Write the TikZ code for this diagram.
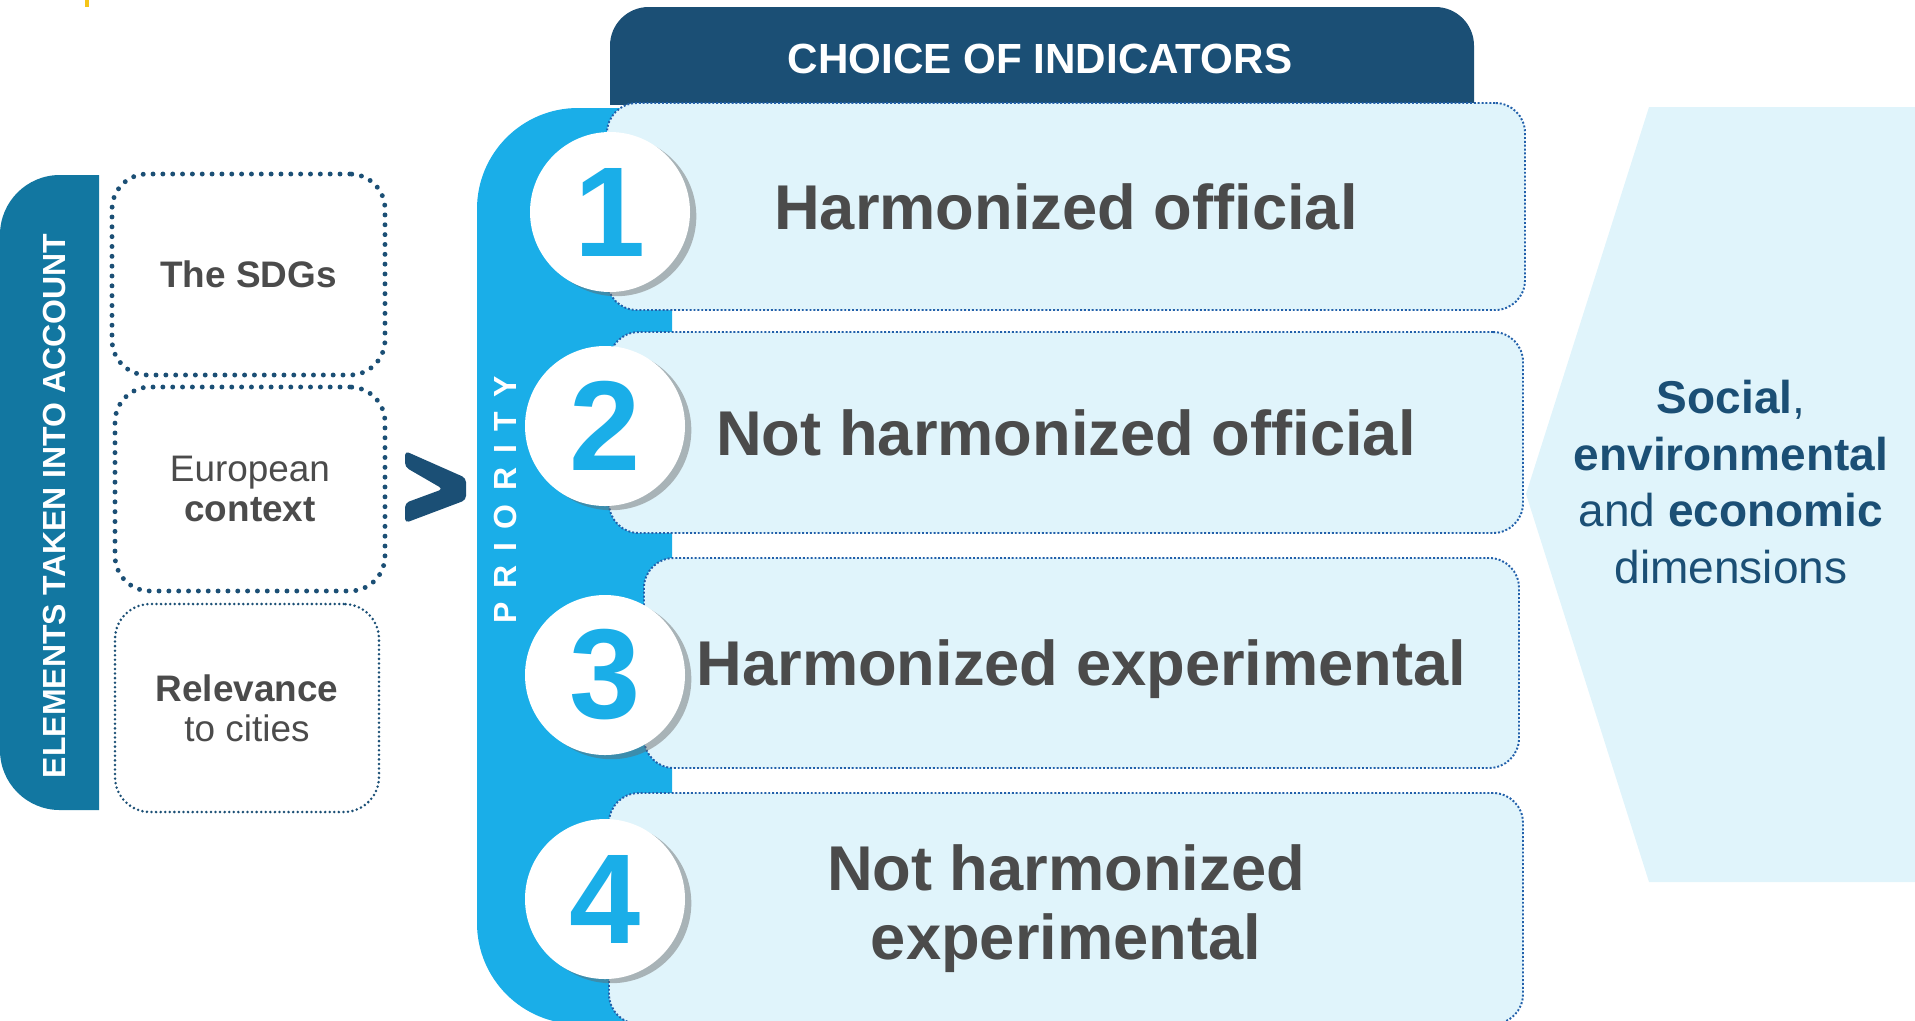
\documentclass[tikz,border=0pt]{standalone}
\usepackage{fontspec}
\setmainfont{Liberation Sans}
\usetikzlibrary{shadows}
\definecolor{navy}{RGB}{27,79,117}
\definecolor{skyblue}{RGB}{26,174,232}
\definecolor{tealblue}{RGB}{18,119,161}
\definecolor{icefill}{RGB}{224,244,251}
\definecolor{dotblue}{RGB}{34,96,170}
\definecolor{textgray}{RGB}{75,75,75}
\definecolor{mustard}{RGB}{245,197,24}

\begin{document}
\begin{tikzpicture}[x=0.1mm, y=-0.1mm,
    rowbox/.style={draw=dotblue, fill=icefill, line width=0.55pt, dash pattern=on 0.55pt off 0.55pt, rounded corners=8.5pt, text=textgray, font=\bfseries\fontsize{18}{19.6}\selectfont, align=center, inner sep=0pt, text depth=0pt},
    elembox/.style={draw=navy, fill=white, line width=1.4pt, line cap=round, dash pattern=on 0pt off 2.8pt, rounded corners=10pt, text=textgray, font=\fontsize{10.5}{11.4}\selectfont, align=center, inner sep=0pt},
    numdisc/.style={circle, fill=white, minimum size=16mm, inner sep=0pt, text=skyblue, font=\bfseries\fontsize{36.4}{36.4}\selectfont, drop shadow={shadow xshift=1.8pt, shadow yshift=-1.2pt, opacity=0.45, fill=black!60}}]

    \useasboundingbox (0,0) rectangle (1915,1020);
    \clip (0,0) rectangle (1915,1020);
    \fill[mustard] (85,0) rectangle (89,7);

    % elements taken into account
    \begin{scope}
        \clip (0,0) rectangle (99,1020);
        \fill[tealblue, rounded corners=17pt] (0,175) rectangle (250,810);
    \end{scope}
    \node[rotate=90, text=white, font=\bfseries\fontsize{9.1}{9.1}\selectfont] (elements) at (54,506) {ELEMENTS TAKEN INTO ACCOUNT};

    \node[elembox, minimum width=27.3mm, minimum height=20.1mm] (sdgs) at (248.5,274.5) {\bfseries The SDGs};
    \node[elembox, minimum width=27mm, minimum height=20.4mm] (europe) at (250,489) {European\\\bfseries context};
    \node[elembox, line width=0.8pt, dash pattern=on 0pt off 1.3pt, minimum width=26.4mm, minimum height=20.8mm] (cities) at (247,708) {\textbf{Relevance}\\to cities};

    \fill[navy, rounded corners=1.2pt] (405,451) -- (466,478) -- (466,500) -- (405,523) -- (405,503) -- (443,489) -- (405,467) -- cycle;

    % priority bar and header
    \begin{scope}
        \clip (477,0) rectangle (672,1020);
        \fill[skyblue, rounded corners=28.7pt] (477,108) rectangle (900,1024);
    \end{scope}
    \node[rotate=90, text=white, font=\bfseries\fontsize{9.1}{9.1}\selectfont] (priority) at (505,500) {P\hspace{3.9pt}R\hspace{3.9pt}I\hspace{3.9pt}O\hspace{3.9pt}R\hspace{3.9pt}I\hspace{3.9pt}T\hspace{3.9pt}Y};

    \begin{scope}
        \clip (600,0) rectangle (1500,104);
        \fill[navy, rounded corners=11pt] (610,7) rectangle (1474,200);
    \end{scope}
    \node[text=white, font=\bfseries\fontsize{12}{12}\selectfont] (choice) at (1040,58.5) {CHOICE OF INDICATORS};

    \node[rowbox, minimum width=91.8mm, minimum height=20.7mm] (harmoff) at (1066,206.5) {Harmonized official};
    \node[rowbox, minimum width=91.4mm, minimum height=20.1mm] (notharmoff) at (1066,432.5) {Not harmonized official};
    \node[rowbox, minimum width=87.5mm, minimum height=21mm] (harmexp) at (1081.5,663) {Harmonized experimental};
    \node[rowbox, text depth=, minimum width=91.4mm, minimum height=23.1mm] (notharmexp) at (1066,908.5) {Not harmonized\\experimental};

    \node[numdisc] (one) at (610,212) {1};
    \node[numdisc] (two) at (605,426) {2};
    \node[numdisc] (three) at (605,675) {3};
    \node[numdisc] (four) at (605,899) {4};

    % dimensions
    \fill[icefill] (1526,494) -- (1649,107) -- (1915,107) -- (1915,882) -- (1649,882) -- cycle;
    \node[text=navy, align=center, font=\fontsize{13.1}{16.2}\selectfont] (dims) at (1731,482) {\textbf{Social},\\\textbf{environmental}\\and \textbf{economic}\\dimensions};

\end{tikzpicture}
\end{document}
